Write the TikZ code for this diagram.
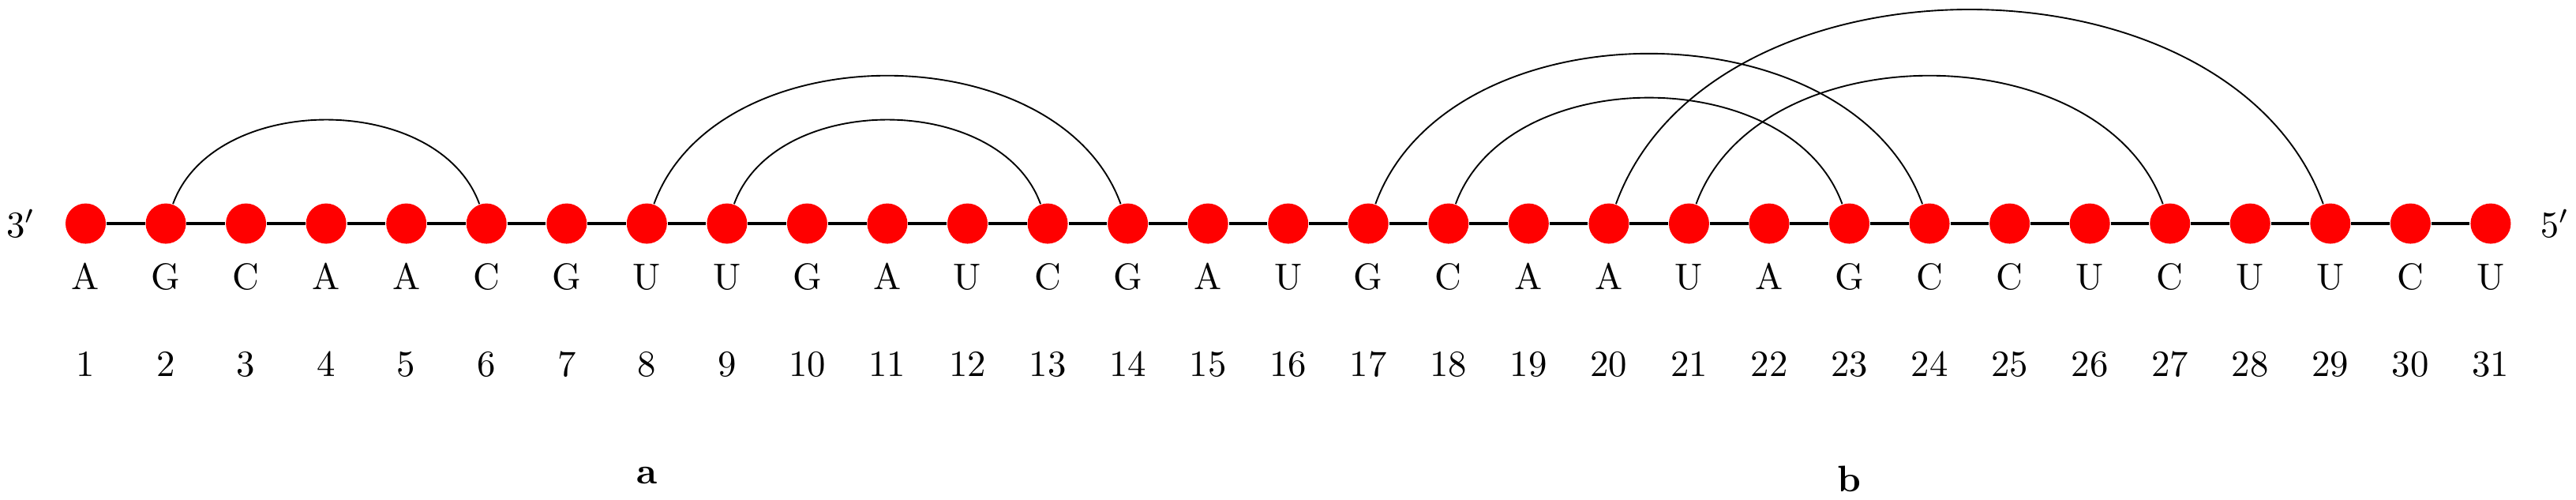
\documentclass[tikz,border=0pt]{standalone}
\usetikzlibrary{positioning}
\begin{document}
\begin{tikzpicture}[
    nuc/.style={circle, fill=red, inner sep=0pt, minimum size=10.9pt},
    backbone/.style={line width=1pt},
    pair/.style={out=70, in=110},
    lbl/.style={anchor=base, inner sep=0pt}]
        \useasboundingbox (-0.815,-2.621) rectangle (23.693,2.126);
        % bases, letters and positions
        \foreach [count=\i] \l in {A,G,C,A,A,C,G,U,U,G,A,U,C,G,A,U,G,C,A,A,U,A,G,C,C,U,C,U,U,C,U} {
            \node[nuc] (n\i) at ({(\i-1)*0.7627},0) {};
            \node[lbl] (l\i) at ({(\i-1)*0.7627},-0.63) {\l};
            \node[lbl] (k\i) at ({(\i-1)*0.7627},-1.456) {\i};
        }
        \foreach \i [remember=\i as \lasti (initially 1)] in {2,...,31}
            \draw[backbone] (n\lasti) -- (n\i);
        % pairings
        \foreach \a/\b in {2/6,8/14,9/13,17/24,18/23,20/29,21/27}
            \draw (n\a) to[pair] (n\b);
        \node (end3) at (-0.616,0) {$3'$};
        \node (end5) at (23.49,0) {$5'$};
        \node[lbl] (capa) at ({7*0.7627},-2.471) {\textbf{a}};
        \node[lbl] (capb) at ({22*0.7627},-2.546) {\textbf{b}};
\end{tikzpicture}
\end{document}
